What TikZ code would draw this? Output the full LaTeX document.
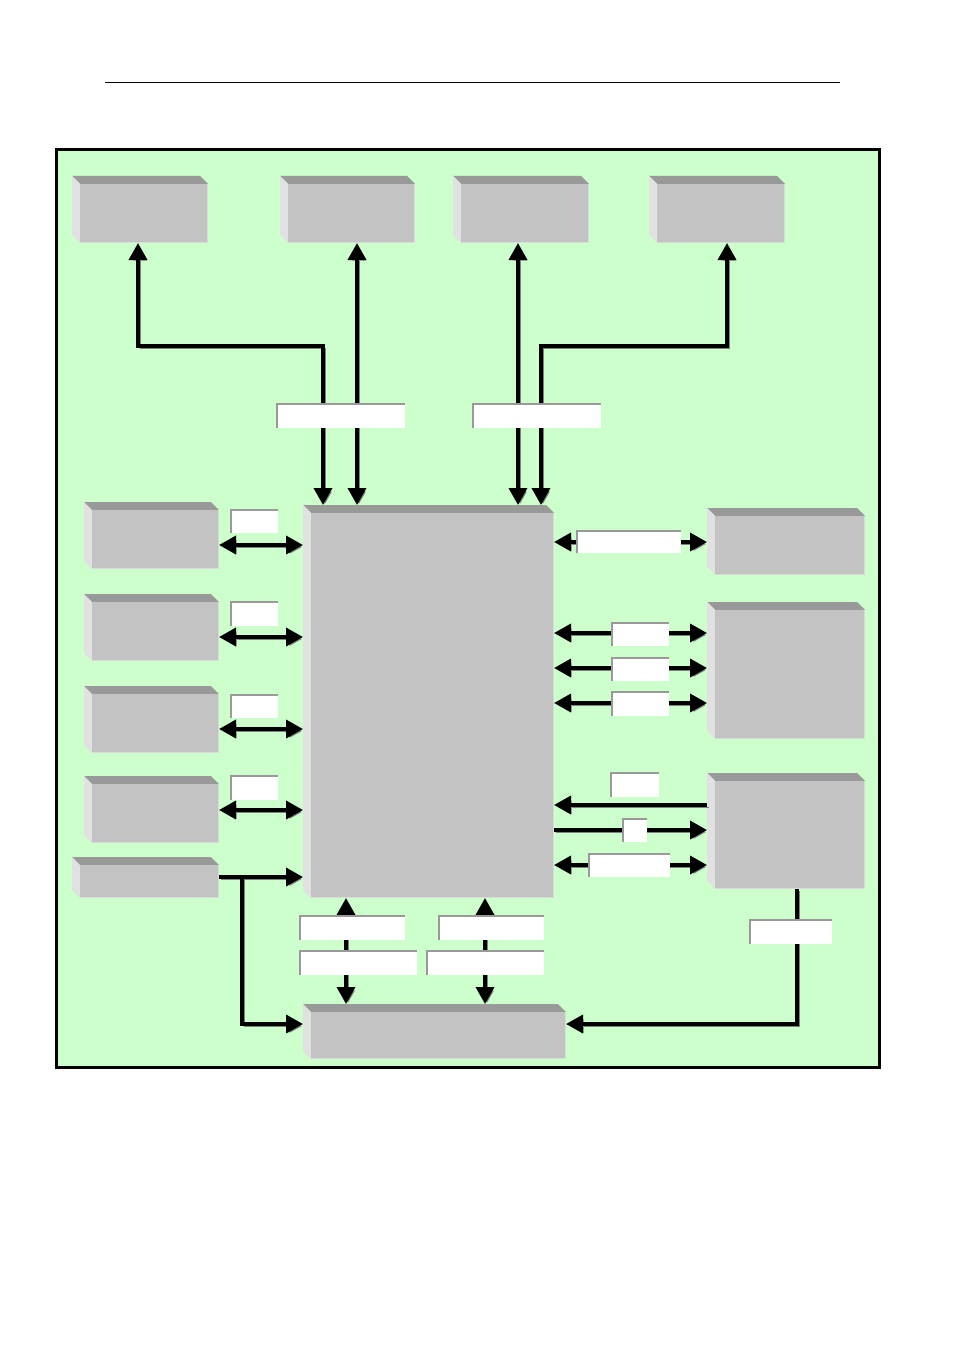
\documentclass[tikz,border=0pt]{standalone}
\usetikzlibrary{arrows.meta}
\definecolor{bggreen}{HTML}{CCFFCC}
\definecolor{facegray}{HTML}{C3C3C3}
\definecolor{topgray}{HTML}{999999}
\definecolor{sidegray}{HTML}{E1E1E1}
\definecolor{edgegray}{HTML}{DADADA}
\tikzset{
  cubenode/.style={inner sep=0pt, outer sep=0pt, draw=none},
  lblnode/.style={inner sep=0pt, outer sep=0pt, fill=white, draw=none},
  lbledge/.style={draw=topgray, line width=1.5pt},
  cubeedge/.style={draw=edgegray, line width=1.5pt},
  conn/.style={line width=3.5pt, preaction={draw=black!50, transform canvas={xshift=2pt,yshift=-2pt}}},
  dbl/.style={conn, {Triangle[length=17pt,width=18pt]}-{Triangle[length=17pt,width=18pt]}},
  sgl/.style={conn, -{Triangle[length=17pt,width=18pt]}}
}
\newcommand\cubebox[5]{%
  \node[cubenode, minimum width={(#4-#2)*1pt}, minimum height={(#5-#3)*1pt}, anchor=north west] (#1) at (#2,#3) {};
  \fill[topgray] (#2,#3) -- ({#4-8},#3) -- (#4,{#3+8}) -- ({#2+8},{#3+8}) -- cycle;
  \fill[sidegray] (#2,#3) -- ({#2+8},{#3+8}) -- ({#2+8},#5) -- (#2,{#5-8}) -- cycle;
  \fill[facegray] ({#2+8},{#3+8}) rectangle (#4,#5);
  \draw[cubeedge] ({#2+8},{#5-0.75}) -- ({#4-0.75},{#5-0.75}) -- ({#4-0.75},{#3+8});
}
\newcommand\lblbox[5]{%
  \node[lblnode, minimum width={(#4-#2)*1pt}, minimum height={(#5-#3)*1pt}, anchor=north west] (#1) at (#2,#3) {};
  \draw[lbledge] ([xshift=0.75pt]#1.south west) -- ([xshift=0.75pt,yshift=-0.75pt]#1.north west) -- ([yshift=-0.75pt]#1.north east);
}
\begin{document}
\begin{tikzpicture}[x=1pt,y=-1pt]
\useasboundingbox (0,0) rectangle (954,1351);
\fill[white] (0,0) rectangle (954,1351);
% header rule
\draw[line width=0.8pt] (105,82) -- (840,82);
% frame
\draw[line width=3pt, fill=bggreen] (56,150) rectangle (879,1067);
% boxes
\cubebox{T1}{72}{176}{208}{243}
\cubebox{T2}{280}{176}{415}{243}
\cubebox{T3}{453}{176}{589}{243}
\cubebox{T4}{649}{176}{785}{243}
\cubebox{L1}{84}{502}{219}{569}
\cubebox{L2}{84}{594}{219}{661}
\cubebox{L3}{84}{686}{219}{753}
\cubebox{L4}{84}{776}{219}{843}
\cubebox{L5}{72}{857}{219}{898}
\cubebox{C}{303}{505}{554}{898}
\cubebox{R1}{707}{508}{865}{575}
\cubebox{R2}{707}{602}{865}{739}
\cubebox{R3}{707}{773}{865}{889}
\cubebox{B}{303}{1004}{566}{1059}
% connectors
\draw[dbl] (T1.south -| 138,0) -- (138,346) -| (C.north -| 323,0);
\draw[dbl] (T2.south -| 357,0) -- (C.north -| 357,0);
\draw[dbl] (T3.south -| 518,0) -- (C.north -| 518,0);
\draw[dbl] (T4.south -| 727,0) -- (727,346) -| (C.north -| 541,0);
\draw[dbl] (L1.east |- 0,545) -- (C.west |- 0,545);
\draw[dbl] (L2.east |- 0,637) -- (C.west |- 0,637);
\draw[dbl] (L3.east |- 0,729) -- (C.west |- 0,729);
\draw[dbl] (L4.east |- 0,810) -- (C.west |- 0,810);
\draw[sgl] (L5.east |- 0,877) -- (C.west |- 0,877);
\coordinate (j) at (242,877);
\draw[sgl] (j) |- (B.west |- 0,1024);
\draw[dbl] (C.east |- 0,542) -- (R1.west |- 0,542);
\draw[dbl] (C.east |- 0,633) -- (R2.west |- 0,633);
\draw[dbl] (C.east |- 0,668) -- (R2.west |- 0,668);
\draw[dbl] (C.east |- 0,703) -- (R2.west |- 0,703);
\draw[sgl] (R3.west |- 0,805) -- (C.east |- 0,805);
\draw[sgl] (C.east |- 0,830) -- (R3.west |- 0,830);
\draw[dbl] (C.east |- 0,865) -- (R3.west |- 0,865);
\draw[sgl] (R3.south -| 797,0) |- (B.east |- 0,1024);
\draw[dbl] (C.south -| 346,0) -- (B.north -| 346,0);
\draw[dbl] (C.south -| 485,0) -- (B.north -| 485,0);
% labels
\lblbox{la}{276}{403}{405}{428}
\lblbox{lb}{472}{403}{601}{428}
\lblbox{lc}{230}{509}{278}{533}
\lblbox{ld}{230}{601}{278}{626}
\lblbox{le}{230}{694}{278}{718}
\lblbox{lf}{230}{775}{278}{800}
\lblbox{lg}{576}{530}{681}{553}
\lblbox{lh}{611}{622}{669}{646}
\lblbox{li}{611}{657}{669}{681}
\lblbox{lj}{611}{691}{669}{716}
\lblbox{lk}{610}{772}{659}{797}
\lblbox{ll}{622}{818}{647}{842}
\lblbox{lm}{588}{853}{670}{877}
\lblbox{ln}{749}{919}{832}{944}
\lblbox{lo}{299}{915}{405}{940}
\lblbox{lp}{438}{915}{544}{940}
\lblbox{lq}{299}{950}{417}{975}
\lblbox{lr}{426}{950}{544}{975}
\end{tikzpicture}
\end{document}
